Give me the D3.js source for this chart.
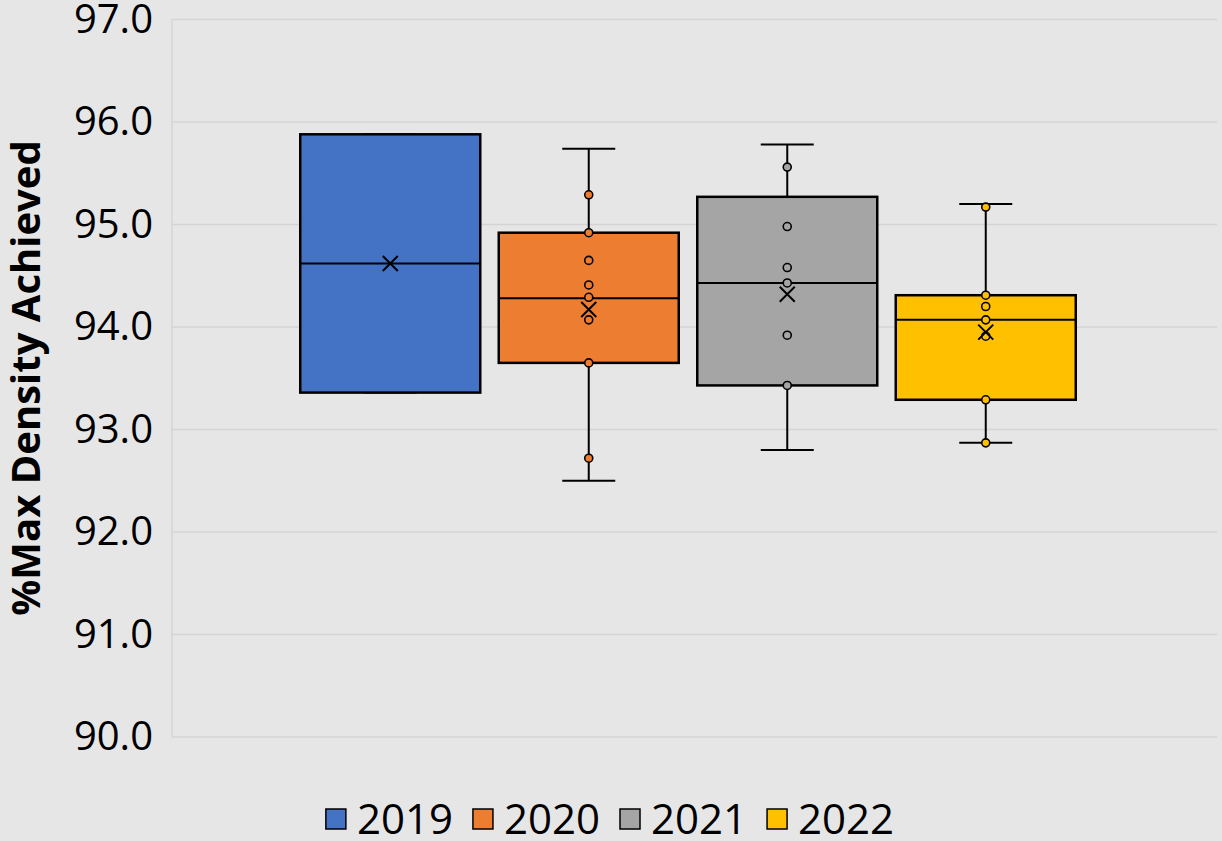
<!DOCTYPE html>
<html>
<head>
  <meta charset="utf-8">
  <title>%Max Density Achieved</title>
  <script src="https://d3js.org/d3.v7.min.js"></script>
  <style>
    body { margin: 0; background: #e7e6e6; }
    text { font-family: "Open Sans", "Noto Sans", sans-serif; fill: #000; }
  </style>
</head>
<body>
  <svg id="grafico"></svg>

  <script>
    // summary values, one entry per year
    const years = ["2019", "2020", "2021", "2022"];
    const colors = ["#4472C4", "#ED7D31", "#A5A5A5", "#FFC000"];
    const whiskerMin = [93.36, 92.50, 92.80, 92.87];
    const q1 = [93.36, 93.65, 93.43, 93.29];
    const medians = [94.62, 94.28, 94.43, 94.07];
    const q3 = [95.88, 94.92, 95.27, 94.31];
    const whiskerMax = [95.88, 95.74, 95.78, 95.20];
    const means = [94.62, 94.17, 94.32, 93.95];

    // inner points shown on each box
    const points2019 = [];
    const points2020 = [95.29, 94.92, 94.65, 94.41, 94.29, 94.07, 93.65, 92.72];
    const points2021 = [95.56, 94.98, 94.58, 94.43, 93.92, 93.43];
    const points2022 = [95.17, 94.31, 94.20, 94.07, 93.91, 93.29, 92.87];
    const innerPoints = [points2019, points2020, points2021, points2022];

    const yTicks = [90, 91, 92, 93, 94, 95, 96, 97];

    const W = 1222, H = 841;
    const plot = { left: 172, right: 1217, top: 19.5, bottom: 737 };

    const svg = d3.select("#grafico")
      .attr("width", W)
      .attr("height", H);

    svg.append("rect")
      .attr("width", W).attr("height", H)
      .attr("fill", "#e7e6e6");

    const y = d3.scaleLinear()
      .domain([90, 97])
      .range([plot.bottom, plot.top]);

    const x = d3.scalePoint()
      .domain(years)
      .range([291, 1085])
      .padding(0.5);

    const boxW = 180;
    const capW = 53;

    // gridlines
    svg.append("g")
      .selectAll("line")
      .data(yTicks)
      .join("line")
      .attr("x1", plot.left)
      .attr("x2", plot.right)
      .attr("y1", d => y(d))
      .attr("y2", d => y(d))
      .attr("stroke", "#d4d4d4")
      .attr("stroke-width", 1.5);

    svg.append("line")
      .attr("x1", plot.left).attr("x2", plot.left)
      .attr("y1", plot.top).attr("y2", plot.bottom)
      .attr("stroke", "#d4d4d4")
      .attr("stroke-width", 1.5);

    // y axis labels
    const yAxis = d3.axisLeft(y)
      .tickValues(yTicks)
      .tickFormat(d3.format(".1f"))
      .tickSize(0)
      .tickPadding(19);

    svg.append("g")
      .attr("transform", `translate(${plot.left},0)`)
      .call(yAxis)
      .call(g => g.select(".domain").remove())
      .call(g => g.selectAll("text")
        .style("font-family", "'Open Sans', sans-serif")
        .style("font-size", "40px")
        .attr("fill", "#000"));

    // axis title
    svg.append("text")
      .attr("transform", "translate(40,378) rotate(-90)")
      .attr("text-anchor", "middle")
      .style("font-size", "40px")
      .style("font-weight", "bold")
      .text("%Max Density Achieved");

    const boxes = svg.append("g")
      .selectAll("g")
      .data(years.map((yr, i) => ({ yr, i })))
      .join("g");

    // whiskers
    boxes.append("line")
      .attr("x1", d => x(d.yr)).attr("x2", d => x(d.yr))
      .attr("y1", d => y(whiskerMin[d.i]))
      .attr("y2", d => y(whiskerMax[d.i]))
      .attr("stroke", "#000").attr("stroke-width", 2);

    boxes.append("line")
      .attr("x1", d => x(d.yr) - capW / 2).attr("x2", d => x(d.yr) + capW / 2)
      .attr("y1", d => y(whiskerMax[d.i])).attr("y2", d => y(whiskerMax[d.i]))
      .attr("stroke", "#000").attr("stroke-width", 2);

    boxes.append("line")
      .attr("x1", d => x(d.yr) - capW / 2).attr("x2", d => x(d.yr) + capW / 2)
      .attr("y1", d => y(whiskerMin[d.i])).attr("y2", d => y(whiskerMin[d.i]))
      .attr("stroke", "#000").attr("stroke-width", 2);

    // boxes
    boxes.append("rect")
      .attr("x", d => x(d.yr) - boxW / 2)
      .attr("width", boxW)
      .attr("y", d => y(q3[d.i]))
      .attr("height", d => y(q1[d.i]) - y(q3[d.i]))
      .attr("fill", d => colors[d.i])
      .attr("stroke", "#000")
      .attr("stroke-width", 2.5);

    boxes.append("line")
      .attr("x1", d => x(d.yr) - boxW / 2).attr("x2", d => x(d.yr) + boxW / 2)
      .attr("y1", d => y(medians[d.i])).attr("y2", d => y(medians[d.i]))
      .attr("stroke", "#000").attr("stroke-width", 2);

    // inner points
    boxes.selectAll("circle")
      .data(d => innerPoints[d.i].map(v => ({ v, i: d.i, yr: d.yr })))
      .join("circle")
      .attr("cx", d => x(d.yr))
      .attr("cy", d => y(d.v))
      .attr("r", 4)
      .attr("fill", d => colors[d.i])
      .attr("stroke", "#000")
      .attr("stroke-width", 1.6);

    // mean markers
    const m = 7.5;
    boxes.append("path")
      .attr("d", d => {
        const cx = x(d.yr), cy = y(means[d.i]);
        return `M${cx - m},${cy - m}L${cx + m},${cy + m}M${cx - m},${cy + m}L${cx + m},${cy - m}`;
      })
      .attr("stroke", "#000")
      .attr("stroke-width", 2)
      .attr("fill", "none");

    // legend
    const legend = svg.append("g");
    const items = legend.selectAll("g")
      .data(years)
      .join("g");

    items.append("rect")
      .attr("y", 809)
      .attr("width", 20).attr("height", 20)
      .attr("fill", (d, i) => colors[i])
      .attr("stroke", "#000")
      .attr("stroke-width", 1.5);

    items.append("text")
      .attr("x", 31)
      .attr("y", 834)
      .style("font-size", "42px")
      .text(d => d);

    let pos = 0;
    const offsets = [];
    items.each(function () {
      offsets.push(pos);
      const tw = d3.select(this).select("text").node().getComputedTextLength();
      pos += 31 + tw + 20;
    });
    const totalW = pos - 20;
    const startX = 610 - totalW / 2;
    items.attr("transform", (d, i) => `translate(${startX + offsets[i]},0)`);
  </script>
</body>
</html>
